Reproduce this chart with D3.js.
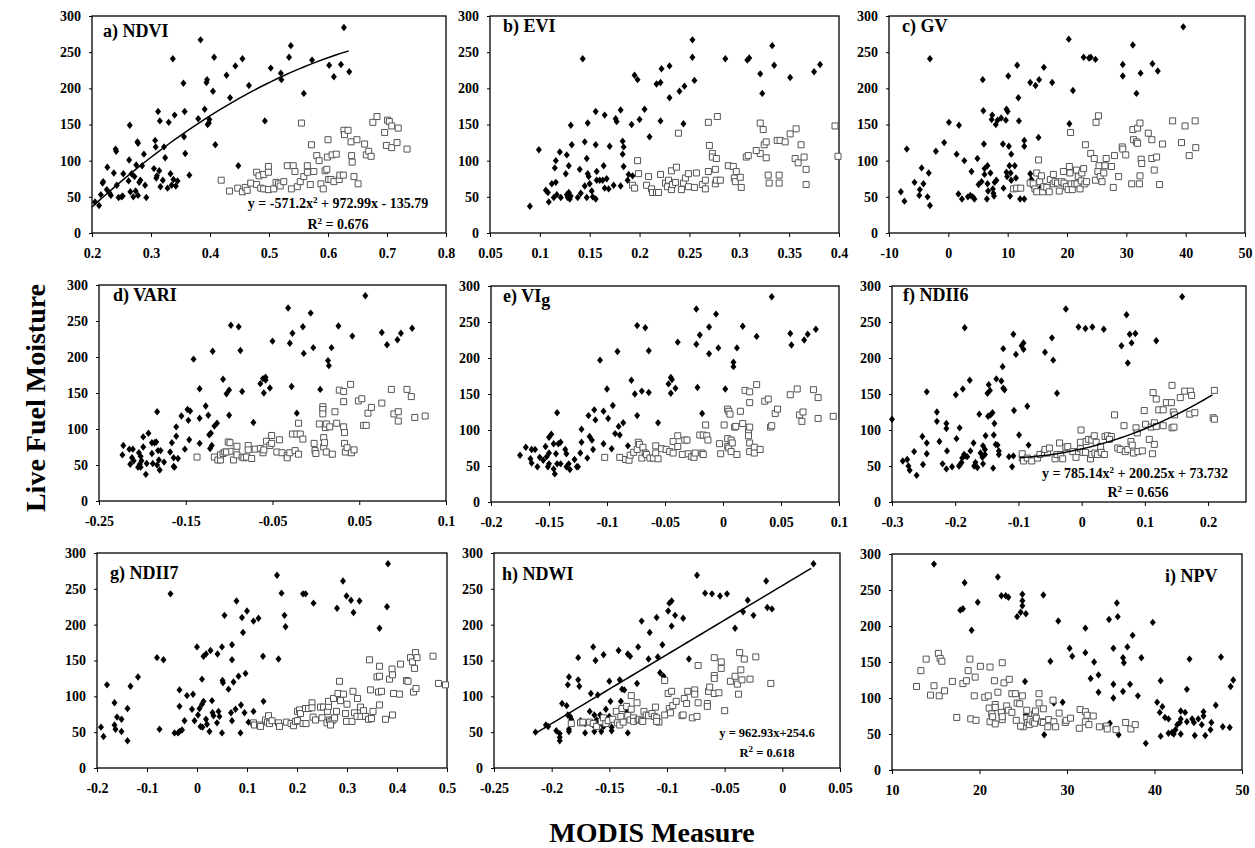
<!DOCTYPE html>
<meta charset="utf-8">
<style>
    body { margin: 0; background: #fff; }
    text {
        font-family: "Liberation Serif", "Times New Roman", serif;
        font-weight: bold;
        fill: #000;
    }
    .tick text { font-size: 14px; }
    .tick line { stroke: #000; }
    .frame { fill: none; stroke: #000; stroke-width: 1.3px; }
    .dm { fill: #000; }
    .sq { fill: #fff; stroke: #555; stroke-width: 1px; }
    .fit { fill: none; stroke: #000; stroke-width: 1.5px; }
    .title { font-size: 18px; }
    .eq { font-size: 14px; text-anchor: middle; }
    .eq.small { font-size: 12.5px; }
    .axis-title { font-size: 28px; text-anchor: middle; }
</style>
<svg width="1255" height="848"></svg>
<script src="https://d3js.org/d3.v7.min.js"></script>
<script>
    var yTicks = [0, 50, 100, 150, 200, 250, 300];

    // a) NDVI
    var ndviD = [[0.205,43],[0.212,38],[0.215,53],[0.218,69],[0.219,71],[0.225,60],[0.226,91],[0.23,55],[0.232,52],[0.237,83],[0.24,116],[0.241,113],[0.242,66],[0.245,49],[0.25,50],[0.252,51],[0.253,82],[0.262,72],[0.263,101],[0.264,149],[0.265,57],[0.267,82],[0.27,50],[0.272,78],[0.274,58],[0.275,94],[0.277,126],[0.278,124],[0.278,52],[0.28,70],[0.282,73],[0.285,93],[0.288,109],[0.29,66],[0.292,49],[0.305,89],[0.307,128],[0.308,119],[0.309,76],[0.31,79],[0.312,168],[0.314,86],[0.315,155],[0.316,64],[0.32,73],[0.322,119],[0.324,104],[0.328,62],[0.33,153],[0.333,82],[0.335,66],[0.337,241],[0.338,74],[0.34,163],[0.342,65],[0.345,72],[0.355,207],[0.356,133],[0.357,168],[0.358,110],[0.365,80],[0.38,158],[0.384,267],[0.391,171],[0.394,208],[0.395,212],[0.396,150],[0.398,152],[0.399,157],[0.405,196],[0.407,243],[0.409,122],[0.428,218],[0.434,187],[0.443,231],[0.448,93],[0.455,241],[0.466,204],[0.493,155],[0.503,228],[0.52,221],[0.521,212],[0.534,243],[0.537,259],[0.559,193],[0.573,239],[0.602,232],[0.61,216],[0.627,284],[0.622,233],[0.636,223]];
    var ndviS = [[0.419,73],[0.433,58],[0.447,62],[0.455,57],[0.46,63],[0.463,59],[0.469,69],[0.479,67],[0.479,84],[0.483,79],[0.486,62],[0.491,61],[0.491,81],[0.499,92],[0.499,84],[0.499,60],[0.508,61],[0.512,70],[0.516,68],[0.519,65],[0.525,71],[0.531,93],[0.538,61],[0.541,93],[0.544,85],[0.548,64],[0.555,152],[0.553,71],[0.559,78],[0.565,93],[0.565,84],[0.57,67],[0.572,122],[0.576,85],[0.581,107],[0.585,100],[0.588,68],[0.592,61],[0.595,86],[0.598,88],[0.6,129],[0.599,105],[0.601,74],[0.605,74],[0.607,108],[0.614,109],[0.61,71],[0.619,74],[0.62,80],[0.626,80],[0.627,142],[0.628,136],[0.634,142],[0.639,126],[0.64,107],[0.641,98],[0.644,78],[0.649,129],[0.651,68],[0.662,123],[0.665,108],[0.669,113],[0.673,106],[0.676,153],[0.683,161],[0.696,139],[0.699,121],[0.701,156],[0.704,154],[0.708,148],[0.708,118],[0.717,125],[0.719,145],[0.734,116]];
    var ndviTicks = [0.2, 0.3, 0.4, 0.5, 0.6, 0.7, 0.8];
    var ndviLabels = ["0.2", "0.3", "0.4", "0.5", "0.6", "0.7", "0.8"];
    var ndviFitCoef = [-571.2, 972.99, -135.79];
    var ndviFitRange = [0.2, 0.635];
    var ndviEq = ["y = -571.2x^2 + 972.99x - 135.79", "R^2 = 0.676"];

    // b) EVI
    var eviD = [[0.09,37],[0.143,241],[0.195,218],[0.198,212],[0.217,206],[0.221,208],[0.222,227],[0.23,231],[0.23,187],[0.24,196],[0.245,203],[0.253,267],[0.253,243],[0.255,211],[0.286,241],[0.308,239],[0.31,242],[0.323,193],[0.321,220],[0.333,259],[0.335,232],[0.351,215],[0.375,223],[0.381,233],[0.205,171],[0.2,157],[0.176,158],[0.177,154],[0.192,150],[0.181,170],[0.156,168],[0.165,163],[0.131,149],[0.148,152],[0.21,133],[0.221,155],[0.244,151],[0.099,115],[0.12,112],[0.127,108],[0.132,122],[0.145,126],[0.156,122],[0.17,120],[0.183,127],[0.184,119],[0.183,109],[0.116,100],[0.147,103],[0.115,90],[0.129,93],[0.126,82],[0.14,88],[0.148,82],[0.149,78],[0.164,93],[0.157,85],[0.184,92],[0.189,81],[0.193,79],[0.112,68],[0.116,70],[0.106,59],[0.108,56],[0.109,43],[0.114,49],[0.117,53],[0.121,49],[0.127,53],[0.128,49],[0.13,47],[0.131,51],[0.129,56],[0.138,49],[0.141,55],[0.145,65],[0.147,49],[0.15,68],[0.152,58],[0.153,50],[0.156,47],[0.157,73],[0.16,73],[0.163,73],[0.167,75],[0.165,62],[0.169,61],[0.174,66],[0.181,65],[0.188,73]];
    var eviS = [[0.198,100],[0.199,82],[0.193,66],[0.195,62],[0.207,66],[0.209,78],[0.212,61],[0.213,56],[0.217,56],[0.219,56],[0.221,81],[0.226,69],[0.228,64],[0.229,73],[0.232,86],[0.237,91],[0.232,60],[0.233,67],[0.236,70],[0.239,138],[0.242,60],[0.244,69],[0.246,76],[0.249,82],[0.249,64],[0.257,83],[0.255,63],[0.263,67],[0.266,61],[0.266,73],[0.269,153],[0.269,85],[0.27,121],[0.273,110],[0.273,105],[0.277,103],[0.276,88],[0.276,68],[0.277,73],[0.278,161],[0.281,73],[0.289,93],[0.294,92],[0.295,76],[0.296,71],[0.297,85],[0.302,63],[0.301,77],[0.307,105],[0.309,107],[0.321,152],[0.324,143],[0.325,122],[0.327,126],[0.327,104],[0.321,110],[0.317,114],[0.329,80],[0.33,69],[0.338,128],[0.341,128],[0.346,126],[0.34,69],[0.34,80],[0.351,137],[0.357,144],[0.356,103],[0.359,97],[0.362,122],[0.365,105],[0.367,88],[0.367,67],[0.396,148],[0.399,106]];
    var eviTicks = [0.05, 0.1, 0.15, 0.2, 0.25, 0.3, 0.35, 0.4];
    var eviLabels = ["0.05", "0.1", "0.15", "0.2", "0.25", "0.3", "0.35", "0.4"];

    // c) GV
    var gvD = [[-8,57],[-7.4,44],[-7,116],[-5.7,70],[-4.9,52],[-4.8,60],[-4.5,90],[-4.2,68],[-3.5,50],[-3.3,83],[-3.1,38],[-3.1,241],[-2.1,113],[-0.7,125],[0.1,153],[1.4,109],[1.7,54],[1.8,149],[2.7,100],[2.3,47],[3.3,50],[3.7,52],[4.1,50],[4.4,47],[3.9,85],[4.9,103],[5.1,67],[5.6,71],[5.8,212],[5.9,169],[6,123],[6.1,81],[6.1,89],[6.5,47],[6.6,93],[6.6,68],[6.7,58],[7.1,83],[7.3,157],[7.4,163],[7.5,61],[7.6,55],[7.7,51],[7.8,70],[8,150],[8.1,73],[8.3,156],[8.9,159],[9.3,62],[9.2,123],[9.7,156],[9.8,171],[10,168],[9.8,84],[9.9,78],[10.1,217],[10.2,120],[10.3,93],[10.4,51],[10.5,83],[10.6,109],[10.6,73],[11.2,93],[11.4,76],[11.6,232],[11.8,187],[11.9,155],[12.1,47],[12.8,120],[12.8,128],[12.8,47],[13.8,82],[13.8,208],[14,74],[14.3,64],[14.7,204],[15.3,212],[15.2,132],[15.3,80],[15.6,63],[16.1,229],[17.5,208],[20.3,268],[20.4,151],[21,197],[22.8,243],[23.7,242],[24,243],[24.8,240],[29.4,233],[29.4,217],[31.1,260],[31.7,193],[32.4,221],[34.4,234],[35.3,224],[39.6,285]];
    var gvS = [[11,61],[11.5,62],[12.2,62],[13.8,69],[14.3,68],[14.6,61],[14.9,83],[15.2,101],[15.4,71],[14.9,57],[15.7,79],[15.9,57],[16.1,64],[16.6,63],[17,57],[17.2,74],[17.7,81],[17.7,68],[18,71],[18.4,69],[18.7,58],[19.1,71],[19.4,85],[19.5,69],[19.9,64],[20.2,60],[20.4,92],[20.5,83],[20.6,139],[20.7,68],[20.9,60],[21.3,68],[21.6,87],[21.7,68],[21.9,78],[22.2,61],[22.4,72],[22.5,83],[22.8,89],[23,68],[23.1,122],[23.3,71],[24,110],[24.6,103],[24.8,73],[24.9,153],[25.2,85],[25.3,162],[25.4,93],[25.6,78],[25.9,71],[26.2,83],[26.4,93],[26.6,103],[27.5,92],[27.8,63],[28,107],[28.7,78],[29.3,119],[29.4,116],[29.9,108],[30.9,68],[31.1,143],[31.2,129],[31.7,126],[31.9,145],[31.9,124],[32.2,68],[32.3,152],[32.3,79],[32.5,102],[32.6,96],[33.7,138],[34.3,129],[34.3,103],[34.7,87],[35.1,105],[35.6,67],[36.1,123],[37.8,155],[39.3,125],[39.9,148],[40.6,107],[41.6,155],[41.7,118]];
    var gvTicks = [-10, 0, 10, 20, 30, 40, 50];
    var gvLabels = ["-10", "0", "10", "20", "30", "40", "50"];

    // d) VARI
    var variD = [[-0.222,77],[-0.223,64],[-0.215,72],[-0.211,72],[-0.214,51],[-0.212,60],[-0.21,56],[-0.205,47],[-0.203,51],[-0.202,47],[-0.204,67],[-0.202,62],[-0.201,56],[-0.199,89],[-0.199,75],[-0.196,37],[-0.195,52],[-0.193,94],[-0.189,66],[-0.189,81],[-0.188,52],[-0.186,81],[-0.184,82],[-0.183,124],[-0.183,50],[-0.182,70],[-0.181,57],[-0.18,43],[-0.179,70],[-0.175,54],[-0.168,68],[-0.166,81],[-0.164,60],[-0.164,48],[-0.163,47],[-0.161,103],[-0.161,90],[-0.159,59],[-0.155,118],[-0.151,72],[-0.148,127],[-0.145,125],[-0.147,112],[-0.146,85],[-0.141,197],[-0.134,156],[-0.134,115],[-0.134,80],[-0.127,132],[-0.124,119],[-0.123,92],[-0.121,94],[-0.12,77],[-0.119,208],[-0.122,73],[-0.117,104],[-0.114,108],[-0.107,169],[-0.103,149],[-0.1,154],[-0.1,119],[-0.098,244],[-0.089,242],[-0.087,209],[-0.085,152],[-0.072,109],[-0.064,163],[-0.061,170],[-0.058,172],[-0.058,168],[-0.06,150],[-0.053,157],[-0.05,222],[-0.032,268],[-0.03,219],[-0.028,159],[-0.027,233],[-0.022,122],[-0.015,242],[-0.014,205],[-0.006,261],[-0.003,213],[0.005,155],[0.014,195],[0.015,188],[0.018,213],[0.026,243],[0.042,229],[0.057,285],[0.076,234],[0.082,217],[0.094,224],[0.098,233],[0.111,240]];
    var variS = [[-0.137,61],[-0.117,61],[-0.113,57],[-0.11,57],[-0.11,64],[-0.107,66],[-0.105,68],[-0.103,68],[-0.101,82],[-0.099,81],[-0.097,69],[-0.095,57],[-0.092,69],[-0.091,76],[-0.091,64],[-0.085,61],[-0.083,60],[-0.08,61],[-0.078,77],[-0.078,71],[-0.074,59],[-0.07,72],[-0.064,73],[-0.061,67],[-0.06,71],[-0.057,83],[-0.053,77],[-0.051,91],[-0.051,80],[-0.045,68],[-0.042,85],[-0.039,67],[-0.033,63],[-0.033,60],[-0.03,67],[-0.027,93],[-0.024,70],[-0.022,93],[-0.018,93],[-0.02,108],[-0.02,65],[-0.015,86],[-0.002,80],[-0.001,70],[0,66],[0.004,107],[0.008,131],[0.008,127],[0.008,121],[0.009,88],[0.009,75],[0.01,81],[0.011,102],[0.012,68],[0.012,107],[0.016,103],[0.019,65],[0.022,124],[0.024,108],[0.027,154],[0.032,152],[0.032,138],[0.032,103],[0.033,95],[0.033,80],[0.034,68],[0.036,74],[0.04,162],[0.041,67],[0.044,71],[0.049,139],[0.053,142],[0.055,105],[0.058,105],[0.06,122],[0.064,130],[0.076,136],[0.087,155],[0.09,121],[0.095,124],[0.095,111],[0.105,155],[0.11,145],[0.114,116],[0.126,118]];
    var variTicks = [-0.25, -0.15, -0.05, 0.05, 0.15];
    var variLabels = ["-0.25", "-0.15", "-0.05", "0.05", "0.1"];

    // e) VIg
    var vigD = [[-0.175,65],[-0.17,76],[-0.166,60],[-0.165,54],[-0.165,73],[-0.162,73],[-0.16,49],[-0.158,62],[-0.155,58],[-0.152,63],[-0.153,77],[-0.151,49],[-0.15,53],[-0.15,90],[-0.15,68],[-0.148,94],[-0.146,81],[-0.146,46],[-0.145,39],[-0.144,67],[-0.143,53],[-0.143,124],[-0.142,81],[-0.14,83],[-0.14,53],[-0.136,73],[-0.135,49],[-0.135,67],[-0.133,53],[-0.132,45],[-0.128,59],[-0.126,49],[-0.125,49],[-0.123,68],[-0.122,101],[-0.122,83],[-0.117,61],[-0.116,120],[-0.115,91],[-0.113,86],[-0.112,73],[-0.111,128],[-0.11,114],[-0.106,197],[-0.103,81],[-0.103,126],[-0.1,157],[-0.099,116],[-0.096,74],[-0.095,134],[-0.093,95],[-0.091,209],[-0.09,105],[-0.089,93],[-0.086,110],[-0.082,78],[-0.079,169],[-0.076,150],[-0.074,120],[-0.074,245],[-0.07,154],[-0.067,242],[-0.064,210],[-0.064,152],[-0.056,110],[-0.047,164],[-0.045,173],[-0.044,170],[-0.045,151],[-0.041,158],[-0.039,222],[-0.023,268],[-0.023,219],[-0.022,159],[-0.02,232],[-0.018,123],[-0.012,243],[-0.012,206],[-0.006,261],[-0.004,214],[0.002,157],[0.009,194],[0.009,188],[0.012,214],[0.017,244],[0.029,230],[0.042,285],[0.058,234],[0.059,218],[0.07,225],[0.073,233],[0.08,240]];
    var vigS = [[-0.102,62],[-0.089,62],[-0.084,59],[-0.081,58],[-0.08,65],[-0.077,69],[-0.074,73],[-0.073,83],[-0.072,80],[-0.07,61],[-0.069,76],[-0.067,68],[-0.066,66],[-0.063,61],[-0.06,61],[-0.058,78],[-0.058,68],[-0.056,60],[-0.053,74],[-0.049,73],[-0.046,70],[-0.043,84],[-0.043,68],[-0.039,92],[-0.039,77],[-0.035,66],[-0.033,86],[-0.031,86],[-0.03,67],[-0.027,63],[-0.025,62],[-0.024,68],[-0.02,93],[-0.017,93],[-0.018,68],[-0.017,66],[-0.015,107],[-0.014,92],[-0.013,86],[-0.003,81],[-0.002,67],[0.001,107],[0.004,88],[0.004,77],[0.004,129],[0.005,126],[0.005,75],[0.006,122],[0.007,86],[0.007,70],[0.008,82],[0.01,104],[0.011,105],[0.012,66],[0.015,126],[0.017,109],[0.019,155],[0.022,99],[0.022,92],[0.023,82],[0.023,153],[0.023,138],[0.023,104],[0.023,70],[0.027,76],[0.027,68],[0.029,163],[0.032,73],[0.036,140],[0.039,143],[0.041,104],[0.042,106],[0.045,123],[0.047,129],[0.058,149],[0.064,157],[0.066,121],[0.069,125],[0.068,112],[0.078,156],[0.082,145],[0.082,116],[0.095,119]];
    var vigTicks = [-0.2, -0.15, -0.1, -0.05, 0, 0.05, 0.1];
    var vigLabels = ["-0.2", "-0.15", "-0.1", "-0.05", "0", "0.05", "0.1"];

    // f) NDII6
    var ndii6D = [[-0.3,115],[-0.283,57],[-0.276,59],[-0.274,50],[-0.272,44],[-0.265,70],[-0.261,37],[-0.252,91],[-0.251,52],[-0.245,82],[-0.245,67],[-0.245,153],[-0.229,125],[-0.229,112],[-0.225,84],[-0.22,53],[-0.214,109],[-0.214,102],[-0.214,46],[-0.213,71],[-0.205,49],[-0.199,149],[-0.198,88],[-0.194,50],[-0.192,52],[-0.19,55],[-0.193,103],[-0.189,61],[-0.186,66],[-0.184,64],[-0.188,157],[-0.185,242],[-0.181,63],[-0.177,169],[-0.176,71],[-0.171,82],[-0.17,50],[-0.168,55],[-0.165,48],[-0.162,122],[-0.16,68],[-0.157,62],[-0.156,53],[-0.156,78],[-0.153,73],[-0.153,66],[-0.152,92],[-0.149,151],[-0.147,163],[-0.148,119],[-0.144,121],[-0.145,155],[-0.141,124],[-0.14,47],[-0.139,93],[-0.138,109],[-0.136,80],[-0.133,79],[-0.135,171],[-0.131,71],[-0.131,66],[-0.127,168],[-0.125,188],[-0.124,213],[-0.124,158],[-0.122,156],[-0.115,63],[-0.108,64],[-0.11,49],[-0.108,233],[-0.107,127],[-0.104,205],[-0.099,93],[-0.095,217],[-0.092,221],[-0.092,212],[-0.086,133],[-0.084,79],[-0.058,208],[-0.047,228],[-0.045,197],[-0.039,151],[-0.025,268],[-0.005,243],[0.006,241],[0.017,243],[0.035,240],[0.063,217],[0.071,260],[0.073,193],[0.076,233],[0.079,221],[0.085,234],[0.118,224],[0.159,285]];
    var ndii6S = [[-0.094,61],[-0.092,57],[-0.094,67],[-0.086,61],[-0.079,57],[-0.07,61],[-0.066,66],[-0.059,68],[-0.054,68],[-0.058,73],[-0.051,75],[-0.042,60],[-0.039,66],[-0.035,82],[-0.033,66],[-0.03,60],[-0.025,76],[-0.022,77],[-0.014,70],[-0.009,62],[-0.005,70],[-0.002,74],[-0.001,100],[-0.002,83],[0.002,69],[0.006,69],[0.007,84],[0.011,87],[0.016,86],[0.014,60],[0.016,66],[0.021,68],[0.025,66],[0.02,92],[0.023,83],[0.03,77],[0.031,69],[0.036,66],[0.037,91],[0.041,92],[0.047,91],[0.044,87],[0.052,121],[0.057,75],[0.061,73],[0.067,106],[0.069,70],[0.073,73],[0.078,84],[0.08,79],[0.082,68],[0.086,103],[0.089,70],[0.088,96],[0.096,71],[0.099,127],[0.101,108],[0.107,87],[0.11,104],[0.112,67],[0.113,152],[0.115,80],[0.115,110],[0.118,105],[0.118,143],[0.122,128],[0.129,128],[0.129,106],[0.134,138],[0.142,138],[0.143,162],[0.143,103],[0.146,104],[0.145,125],[0.147,121],[0.156,145],[0.163,154],[0.172,154],[0.174,148],[0.171,122],[0.179,124],[0.21,155],[0.208,117],[0.21,115]];
    var ndii6Ticks = [-0.3, -0.2, -0.1, 0, 0.1, 0.2];
    var ndii6Labels = ["-0.3", "-0.2", "-0.1", "0", "0.1", "0.2"];
    var ndii6FitCoef = [785.14, 200.25, 73.732];
    var ndii6FitRange = [-0.098, 0.207];
    var ndii6Eq = ["y = 785.14x^2 + 200.25x + 73.732", "R^2 = 0.656"];

    // g) NDII7
    var ndii7D = [[-0.192,57],[-0.187,44],[-0.18,116],[-0.165,91],[-0.165,60],[-0.163,54],[-0.16,71],[-0.151,68],[-0.151,51],[-0.139,38],[-0.139,83],[-0.133,114],[-0.118,127],[-0.08,154],[-0.075,54],[-0.067,151],[-0.053,243],[-0.045,49],[-0.038,49],[-0.035,51],[-0.03,53],[-0.035,109],[-0.035,86],[-0.025,66],[-0.02,101],[-0.01,82],[-0.008,103],[-0.005,66],[0,169],[0.002,74],[0.005,83],[0.007,58],[0.011,57],[0.01,124],[0.01,89],[0.013,93],[0.013,156],[0.018,159],[0.018,68],[0.02,61],[0.025,51],[0.027,164],[0.03,94],[0.031,77],[0.033,73],[0.04,63],[0.041,159],[0.043,79],[0.045,72],[0.05,49],[0.051,122],[0.052,119],[0.05,169],[0.055,213],[0.063,110],[0.068,77],[0.07,172],[0.07,151],[0.07,66],[0.073,120],[0.077,82],[0.079,233],[0.083,128],[0.087,49],[0.088,88],[0.09,210],[0.092,189],[0.095,77],[0.097,132],[0.1,219],[0.103,64],[0.113,205],[0.123,209],[0.113,79],[0.132,156],[0.133,93],[0.16,269],[0.163,152],[0.169,244],[0.175,213],[0.177,197],[0.212,243],[0.217,243],[0.233,230],[0.28,223],[0.292,261],[0.299,240],[0.308,234],[0.313,217],[0.325,233],[0.365,195],[0.38,225],[0.382,285]];
    var ndii7S = [[0.113,63],[0.115,60],[0.125,60],[0.127,58],[0.137,67],[0.141,64],[0.143,73],[0.145,62],[0.15,66],[0.163,63],[0.165,58],[0.179,64],[0.188,62],[0.193,59],[0.197,65],[0.201,66],[0.201,79],[0.205,81],[0.207,76],[0.212,62],[0.218,62],[0.217,83],[0.223,83],[0.23,91],[0.23,84],[0.232,71],[0.237,67],[0.247,85],[0.253,85],[0.25,70],[0.26,63],[0.261,79],[0.263,86],[0.263,93],[0.265,67],[0.268,65],[0.272,67],[0.275,70],[0.267,60],[0.273,97],[0.279,79],[0.282,104],[0.287,94],[0.285,121],[0.293,103],[0.297,76],[0.3,89],[0.299,65],[0.31,65],[0.312,107],[0.315,77],[0.32,72],[0.321,97],[0.327,85],[0.328,72],[0.333,80],[0.337,72],[0.343,68],[0.345,151],[0.347,109],[0.349,69],[0.352,79],[0.36,127],[0.363,106],[0.365,142],[0.365,88],[0.365,128],[0.369,107],[0.377,68],[0.385,124],[0.39,138],[0.391,130],[0.391,74],[0.393,104],[0.405,103],[0.407,145],[0.419,122],[0.422,121],[0.427,154],[0.431,148],[0.433,106],[0.435,139],[0.437,161],[0.438,111],[0.44,154],[0.472,156],[0.483,118],[0.497,116]];
    var ndii7Ticks = [-0.2, -0.1, 0, 0.1, 0.2, 0.3, 0.4, 0.5];
    var ndii7Labels = ["-0.2", "-0.1", "0", "0.1", "0.2", "0.3", "0.4", "0.5"];

    // h) NDWI
    var ndwiD = [[-0.214,50],[-0.205,60],[-0.203,58],[-0.196,52],[-0.193,48],[-0.193,43],[-0.193,38],[-0.191,90],[-0.187,87],[-0.186,116],[-0.186,74],[-0.185,127],[-0.185,51],[-0.185,54],[-0.184,72],[-0.183,68],[-0.177,123],[-0.177,154],[-0.176,114],[-0.175,66],[-0.171,62],[-0.171,49],[-0.168,64],[-0.167,79],[-0.166,104],[-0.164,169],[-0.164,60],[-0.163,74],[-0.163,51],[-0.162,150],[-0.161,67],[-0.16,102],[-0.158,63],[-0.158,74],[-0.157,51],[-0.155,158],[-0.155,58],[-0.154,67],[-0.153,82],[-0.151,64],[-0.15,72],[-0.15,121],[-0.149,93],[-0.148,52],[-0.148,57],[-0.142,164],[-0.141,123],[-0.14,93],[-0.139,110],[-0.137,109],[-0.135,79],[-0.134,81],[-0.134,159],[-0.132,156],[-0.134,49],[-0.126,118],[-0.125,169],[-0.122,205],[-0.116,152],[-0.115,189],[-0.109,210],[-0.108,155],[-0.106,133],[-0.103,128],[-0.104,172],[-0.099,219],[-0.098,230],[-0.096,233],[-0.096,198],[-0.093,213],[-0.086,209],[-0.081,152],[-0.074,269],[-0.067,244],[-0.061,243],[-0.054,240],[-0.048,243],[-0.041,195],[-0.034,218],[-0.03,234],[-0.025,213],[-0.014,261],[-0.013,224],[-0.009,222],[0.027,285]];
    var ndwiS = [[-0.183,62],[-0.175,63],[-0.173,64],[-0.167,64],[-0.164,62],[-0.161,58],[-0.157,65],[-0.155,70],[-0.153,62],[-0.151,66],[-0.147,68],[-0.144,79],[-0.143,63],[-0.141,60],[-0.14,72],[-0.139,83],[-0.138,64],[-0.135,86],[-0.134,73],[-0.132,67],[-0.131,101],[-0.131,82],[-0.129,70],[-0.129,65],[-0.126,91],[-0.125,67],[-0.124,68],[-0.122,66],[-0.121,65],[-0.12,79],[-0.118,74],[-0.116,73],[-0.113,76],[-0.111,72],[-0.109,70],[-0.107,64],[-0.11,85],[-0.109,65],[-0.102,122],[-0.102,74],[-0.099,104],[-0.096,107],[-0.098,83],[-0.097,77],[-0.095,87],[-0.092,93],[-0.087,73],[-0.086,74],[-0.085,97],[-0.083,90],[-0.082,107],[-0.078,70],[-0.074,72],[-0.076,109],[-0.076,103],[-0.073,143],[-0.073,91],[-0.064,107],[-0.063,113],[-0.065,90],[-0.065,86],[-0.059,154],[-0.059,129],[-0.059,125],[-0.059,104],[-0.055,105],[-0.053,148],[-0.053,139],[-0.05,80],[-0.045,121],[-0.041,128],[-0.039,117],[-0.038,103],[-0.037,161],[-0.036,137],[-0.035,123],[-0.033,152],[-0.028,124],[-0.023,155],[-0.01,118]];
    var ndwiTicks = [-0.25, -0.2, -0.15, -0.1, -0.05, 0, 0.05];
    var ndwiLabels = ["-0.25", "-0.2", "-0.15", "-0.1", "-0.05", "0", "0.05"];
    var ndwiFitCoef = [0, 962.93, 254.6];
    var ndwiFitRange = [-0.214, 0.025];
    var ndwiEq = ["y = 962.93x+254.6", "R^2 = 0.618"];

    // i) NPV
    var npvD = [[14.8,286],[17.8,222],[18.1,224],[18.3,260],[19.1,194],[19.8,233],[22.1,268],[22.5,242],[23,242],[23.3,240],[24.3,213],[24.9,244],[24.9,235],[24.9,228],[24.7,219],[25.3,217],[25.2,123],[25.3,77],[27.3,243],[27.4,49],[28.1,151],[28.5,93],[29,207],[29.5,94],[30.3,169],[30.6,158],[32.1,197],[32.1,163],[32.7,127],[33.1,150],[33.6,132],[33.6,108],[34.8,209],[34.9,65],[35.3,169],[35.3,119],[35.3,100],[35.7,232],[35.8,213],[35.9,49],[36.4,156],[36.5,149],[36.4,109],[36.9,171],[37.2,119],[37.5,187],[38.1,103],[38.5,156],[39,37],[39.8,205],[40.3,94],[40.6,80],[40.7,47],[40.7,124],[40.9,88],[41.2,73],[41.6,71],[41.6,51],[42,52],[42.2,50],[42.4,56],[42.6,63],[42.9,66],[43,82],[43,71],[43,50],[43.5,80],[43.7,112],[43.7,67],[44,154],[44.3,71],[44.5,66],[44.6,48],[45,71],[45.4,63],[45.6,75],[45.6,81],[45.8,48],[46.4,56],[46.5,66],[47,90],[47.6,157],[47.8,60],[48.6,59],[48.7,116],[49,125]];
    var npvS = [[12.8,116],[13.3,138],[13.9,154],[14.4,104],[14.8,117],[15.3,162],[15.5,155],[15.7,151],[15.4,103],[16,110],[16.9,123],[17.4,73],[18.1,120],[18.5,124],[18.7,138],[18.9,154],[19,71],[19.5,129],[19.4,103],[19.6,69],[20.1,144],[20.6,101],[21,103],[21.1,86],[21.2,67],[21.2,143],[21.4,78],[21.5,74],[21.7,124],[21.8,91],[21.8,87],[21.8,64],[22.1,108],[22.5,80],[22.6,70],[22.6,74],[22.6,149],[22.8,121],[23.1,89],[23.3,83],[23.4,126],[23.7,80],[23.7,106],[24.1,106],[24.2,69],[24.3,93],[24.6,92],[24.9,103],[25,60],[24.7,61],[25.4,83],[25.4,72],[25.5,66],[25.7,63],[25.8,70],[26.1,67],[26.3,78],[26.4,82],[26.3,65],[26.5,72],[26.8,106],[26.8,93],[27.1,67],[27.3,85],[27.3,66],[27.8,60],[27.9,70],[28.4,97],[28.5,67],[28.7,60],[29.1,79],[29.8,66],[29.9,69],[30.4,72],[31.5,84],[31.4,58],[32.1,81],[32.1,67],[32.3,76],[32.5,63],[33,75],[33.7,60],[34.5,61],[34.6,57],[35.6,56],[36.7,66],[37.3,57],[37.8,63]];
    var npvTicks = [10, 20, 30, 40, 50];
    var npvLabels = ["10", "20", "30", "40", "50"];

    // layout of the nine plot frames: [left, top, right, bottom]
    var panels = [
        {title: "a) NDVI", box: [92, 16, 446, 233], dom: [0.2, 0.8], ticks: ndviTicks, labels: ndviLabels, d: ndviD, s: ndviS,
         fit: ndviFitCoef, fitRange: ndviFitRange, eq: ndviEq, eqPos: [[338, 208], [338, 229]], tpos: [103, 37]},
        {title: "b) EVI", box: [490, 16, 839, 233], dom: [0.05, 0.4], ticks: eviTicks, labels: eviLabels, d: eviD, s: eviS, tpos: [503, 32]},
        {title: "c) GV", box: [889, 16, 1245, 233], dom: [-10, 50], ticks: gvTicks, labels: gvLabels, d: gvD, s: gvS, tpos: [902, 32]},
        {title: "d) VARI", box: [99, 285, 446, 501], dom: [-0.25, 0.15], ticks: variTicks, labels: variLabels, d: variD, s: variS, tpos: [113, 301]},
        {title: "e) VI", sub: "g", box: [491, 286, 839, 502], dom: [-0.2, 0.1], ticks: vigTicks, labels: vigLabels, d: vigD, s: vigS, tpos: [503, 302]},
        {title: "f) NDII6", box: [892, 286, 1246, 502], dom: [-0.3, 0.26], ticks: ndii6Ticks, labels: ndii6Labels, d: ndii6D, s: ndii6S,
         fit: ndii6FitCoef, fitRange: ndii6FitRange, eq: ndii6Eq, eqPos: [[1135, 478], [1138, 497]], tpos: [903, 301]},
        {title: "g) NDII7", box: [97, 553, 447, 768], dom: [-0.2, 0.5], ticks: ndii7Ticks, labels: ndii7Labels, d: ndii7D, s: ndii7S, tpos: [110, 579]},
        {title: "h) NDWI", box: [494, 553, 840, 768], dom: [-0.25, 0.05], ticks: ndwiTicks, labels: ndwiLabels, d: ndwiD, s: ndwiS,
         fit: ndwiFitCoef, fitRange: ndwiFitRange, eq: ndwiEq, eqPos: [[767, 737], [767, 757]], small: true, tpos: [502, 580]},
        {title: "i) NPV", box: [892, 554, 1242, 770], dom: [10, 50], ticks: npvTicks, labels: npvLabels, d: npvD, s: npvS, tpos: [1165, 582]}
    ];

    var svg = d3.select("svg");
    var diamond = "M0,-3.7L3,0L0,3.7L-3,0Z";
    var square = "M-3,-3H3V3H-3Z";

    function eqText(sel, str) {
        var parts = str.split("^2");
        parts.forEach(function(p, i) {
            sel.append("tspan").attr("dy", i ? 5 : 0).text(p);
            if (i < parts.length - 1) {
                sel.append("tspan").attr("dy", -5).style("font-size", "9px").text("2");
            }
        });
    }

    panels.forEach(function(p) {
        var b = p.box;
        var x = d3.scaleLinear().domain(p.dom).range([b[0], b[2]]);
        var y = d3.scaleLinear().domain([0, 300]).range([b[3], b[1]]);
        var g = svg.append("g");

        g.append("g")
            .attr("transform", "translate(0," + b[3] + ")")
            .call(d3.axisBottom(x).tickValues(p.ticks)
                .tickFormat(function(d, i) { return p.labels[i]; })
                .tickSize(4).tickSizeOuter(0).tickPadding(11))
            .call(function(a) { a.select(".domain").remove(); });

        g.append("g")
            .attr("transform", "translate(" + b[0] + ",0)")
            .call(d3.axisLeft(y).tickValues(yTicks).tickFormat(d3.format("d"))
                .tickSize(3).tickSizeOuter(0).tickPadding(8))
            .call(function(a) { a.select(".domain").remove(); });

        g.selectAll("g.tick text").style("font-family", "'Liberation Serif', serif").style("font-weight", "bold");

        g.append("rect").attr("class", "frame")
            .attr("x", b[0]).attr("y", b[1])
            .attr("width", b[2] - b[0]).attr("height", b[3] - b[1]);

        g.selectAll("path.dm").data(p.d).enter().append("path")
            .attr("class", "dm").attr("d", diamond)
            .attr("transform", function(d) { return "translate(" + x(d[0]) + "," + y(d[1]) + ")"; });

        g.selectAll("path.sq").data(p.s).enter().append("path")
            .attr("class", "sq").attr("d", square)
            .attr("transform", function(d) { return "translate(" + x(d[0]) + "," + y(d[1]) + ")"; });

        if (p.fit) {
            var c = p.fit, r = p.fitRange;
            var pts = d3.range(41).map(function(i) {
                var xv = r[0] + (r[1] - r[0]) * i / 40;
                return [xv, c[0] * xv * xv + c[1] * xv + c[2]];
            });
            g.append("path").attr("class", "fit")
                .attr("d", d3.line().x(function(d) { return x(d[0]); }).y(function(d) { return y(d[1]); })(pts));

            p.eq.forEach(function(s, i) {
                var t = g.append("text").attr("class", "eq" + (p.small ? " small" : ""))
                    .attr("x", p.eqPos[i][0]).attr("y", p.eqPos[i][1]);
                eqText(t, s);
            });
        }

        var title = g.append("text").attr("class", "title")
            .attr("x", p.tpos[0]).attr("y", p.tpos[1]).text(p.title);
        if (p.sub) {
            title.append("tspan").attr("dy", 4).text(p.sub);
        }
    });

    svg.append("text").attr("class", "axis-title")
        .attr("transform", "translate(45,398) rotate(-90)")
        .text("Live Fuel Moisture");

    svg.append("text").attr("class", "axis-title")
        .attr("x", 652).attr("y", 842)
        .text("MODIS Measure");
</script>
